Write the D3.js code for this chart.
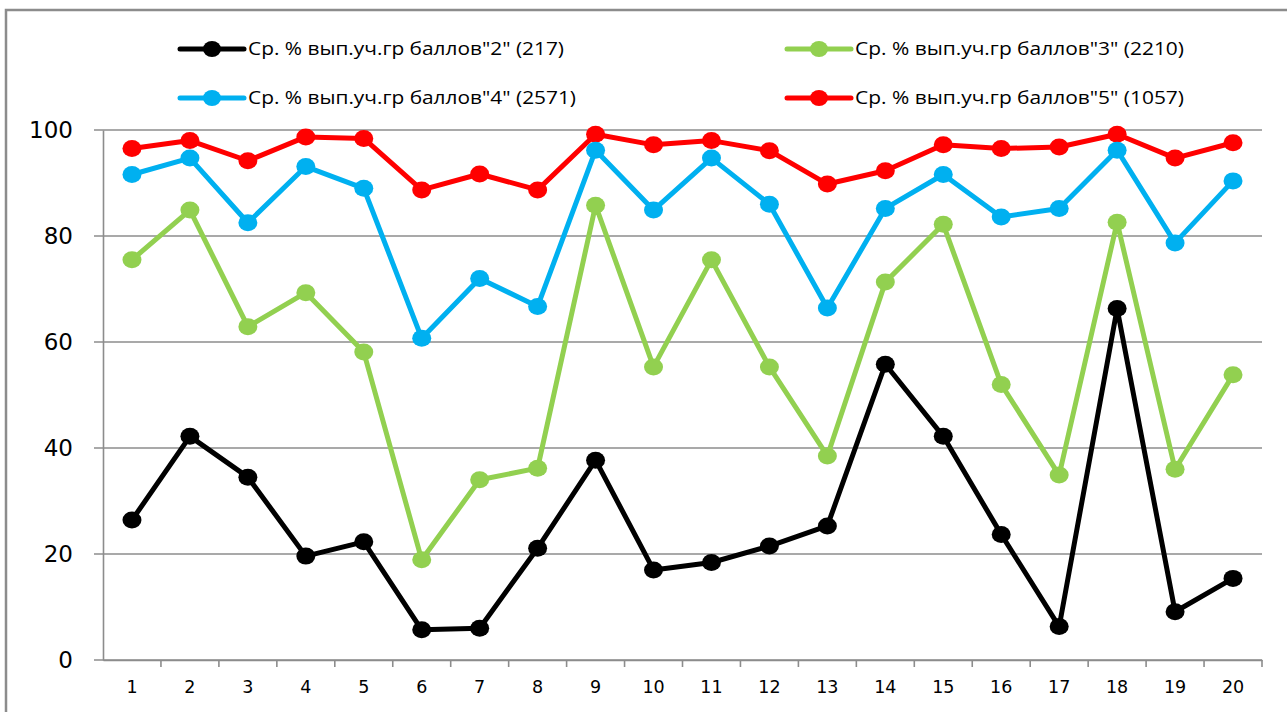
<!DOCTYPE html>
<meta charset="utf-8">
<script src="https://d3js.org/d3.v7.min.js"></script>
<style>
  body { margin: 0; background: #fff; }
</style>
<div id="chart"></div>
<script>

// categories (task numbers) and the four series
var categories = d3.range(1, 21).map(String);
var seriesNames = [
  'Ср. % вып.уч.гр баллов"2" (217)',
  'Ср. % вып.уч.гр баллов"3" (2210)',
  'Ср. % вып.уч.гр баллов"4" (2571)',
  'Ср. % вып.уч.гр баллов"5" (1057)'
];
var grade2 = [26.4, 42.2, 34.5, 19.6, 22.3, 5.7, 6.0, 21.1, 37.7, 17.0, 18.4, 21.5, 25.3, 55.8, 42.2, 23.7, 6.3, 66.3, 9.1, 15.4];
var grade3 = [75.5, 84.9, 62.9, 69.3, 58.1, 18.9, 34.0, 36.2, 85.8, 55.3, 75.5, 55.3, 38.5, 71.3, 82.2, 52.0, 34.9, 82.6, 36.0, 53.8];
var grade4 = [91.6, 94.7, 82.5, 93.1, 89.0, 60.7, 72.0, 66.7, 96.2, 84.9, 94.7, 86.0, 66.4, 85.2, 91.6, 83.6, 85.2, 96.2, 78.7, 90.4];
var grade5 = [96.5, 98.0, 94.2, 98.7, 98.4, 88.7, 91.7, 88.7, 99.2, 97.2, 98.0, 96.1, 89.8, 92.3, 97.2, 96.5, 96.8, 99.2, 94.7, 97.6];
var yTicks = [0, 20, 40, 60, 80, 100];

var colors = ["#000000", "#92D050", "#00B0F0", "#FF0000"];
var allSeries = [grade2, grade3, grade4, grade5].map(function(vals, i) {
  return { name: seriesNames[i], color: colors[i], values: vals };
});

var W = 1287, H = 712;
var svg = d3.select("#chart").append("svg")
  .attr("width", W).attr("height", H);

// outer chart frame
svg.append("rect")
  .attr("x", 6).attr("y", 10)
  .attr("width", W + 10).attr("height", H + 10)
  .attr("fill", "#fff")
  .attr("stroke", "#8c8c8c").attr("stroke-width", 2.5);

var x = d3.scaleBand().domain(categories).range([103, 1262]);
var y = d3.scaleLinear().domain([0, 100]).range([660, 130]);

// gridlines with tick stubs on the left
svg.append("g")
  .selectAll("line")
  .data(yTicks)
  .join("line")
    .attr("x1", 94).attr("x2", 1262)
    .attr("y1", function(d) { return y(d); })
    .attr("y2", function(d) { return y(d); })
    .attr("stroke", "#8c8c8c").attr("stroke-width", 1.6);

// Y axis
var yAxis = svg.append("g")
  .attr("transform", "translate(103,0)")
  .call(d3.axisLeft(y).tickValues(yTicks).tickSize(0).tickPadding(30));
yAxis.select(".domain").attr("stroke", "#8c8c8c").attr("stroke-width", 1.6);
yAxis.selectAll("text")
  .style("font-family", "DejaVu Sans")
  .style("font-size", "23px")
  .attr("fill", "#000");

// X axis: ticks at band boundaries
var xAxis = svg.append("g")
  .attr("transform", "translate(0,660)")
  .call(d3.axisBottom(x).tickSize(0).tickPadding(21));
xAxis.select(".domain").attr("stroke", "#8c8c8c").attr("stroke-width", 1.6);
xAxis.selectAll("text")
  .style("font-family", "DejaVu Sans")
  .style("font-size", "17.5px")
  .attr("fill", "#000");
svg.append("g")
  .selectAll("line")
  .data(categories)
  .join("line")
    .attr("x1", function(d) { return x(d) + x.bandwidth(); })
    .attr("x2", function(d) { return x(d) + x.bandwidth(); })
    .attr("y1", 660).attr("y2", 667)
    .attr("stroke", "#8c8c8c").attr("stroke-width", 1.6);

var line = d3.line()
  .x(function(d, i) { return x(categories[i]) + x.bandwidth() / 2; })
  .y(function(d) { return y(d); });

// draw series in reverse so the "2" series ends up on top
var groups = svg.append("g")
  .selectAll("g")
  .data(allSeries.slice().reverse())
  .join("g");

groups.append("path")
  .attr("d", function(d) { return line(d.values); })
  .attr("fill", "none")
  .attr("stroke", function(d) { return d.color; })
  .attr("stroke-width", 5)
  .attr("stroke-linejoin", "round");

groups.selectAll("ellipse")
  .data(function(d) { return d.values.map(function(v, i) { return { v: v, i: i, color: d.color }; }); })
  .join("ellipse")
    .attr("cx", function(d) { return x(categories[d.i]) + x.bandwidth() / 2; })
    .attr("cy", function(d) { return y(d.v); })
    .attr("rx", 9.5).attr("ry", 8.5)
    .attr("fill", function(d) { return d.color; });

// legend: two columns, two rows
var legendPos = [
  { x: 180, y: 49, w: 316 },
  { x: 787, y: 49, w: 329 },
  { x: 180, y: 98, w: 328 },
  { x: 787, y: 98, w: 329 }
];
var legend = svg.append("g")
  .selectAll("g")
  .data(allSeries)
  .join("g")
    .attr("transform", function(d, i) { return "translate(" + legendPos[i].x + "," + legendPos[i].y + ")"; });

legend.append("line")
  .attr("x1", 0).attr("x2", 64).attr("y1", 0).attr("y2", 0)
  .attr("stroke", function(d) { return d.color; })
  .attr("stroke-width", 5).attr("stroke-linecap", "round");
legend.append("ellipse")
  .attr("cx", 32).attr("cy", 0).attr("rx", 9).attr("ry", 8)
  .attr("fill", function(d) { return d.color; });
legend.append("text")
  .attr("x", 68).attr("y", 0)
  .attr("dy", "0.35em")
  .attr("textLength", function(d, i) { return legendPos[i].w; })
  .attr("lengthAdjust", "spacingAndGlyphs")
  .style("font-family", "Open Sans")
  .style("font-size", "18px")
  .text(function(d) { return d.name; });

</script>
